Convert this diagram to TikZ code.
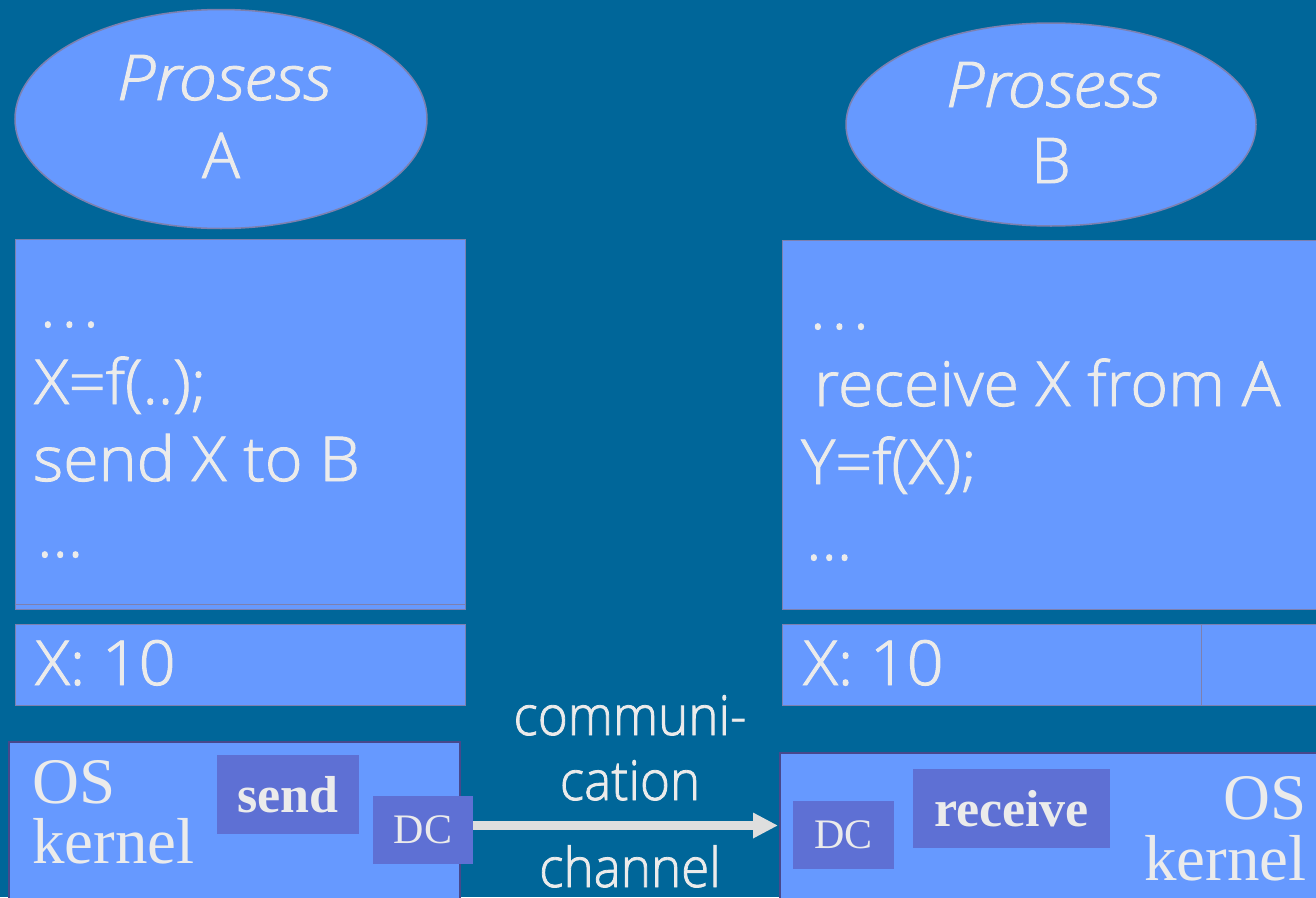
\documentclass[tikz,border=0pt]{standalone}
\usepackage{fontspec}
\setmainfont{Liberation Serif}
\IfFontExistsTF{Open Sans Light}
  {\newfontfamily\sansfont{Open Sans Light}[FakeBold=1.5]}
  {\newfontfamily\sansfont{Open Sans}}
\usetikzlibrary{arrows.meta,shapes.geometric}

\definecolor{bg}{RGB}{0,102,153}
\definecolor{panel}{RGB}{102,153,255}
\definecolor{edge}{RGB}{125,128,175}
\definecolor{kedge}{RGB}{72,72,140}
\definecolor{callbox}{RGB}{94,112,212}
\definecolor{ink}{RGB}{235,235,235}
\definecolor{wire}{RGB}{222,222,222}

\tikzset{
  proc/.style={ellipse, draw=edge, line width=1.5pt, fill=panel, inner sep=0},
  panelbox/.style={rectangle, draw=edge, line width=1pt, fill=panel, inner sep=0},
  kernelbox/.style={rectangle, draw=kedge, line width=2pt, fill=panel, inner sep=0},
  callnode/.style={rectangle, fill=callbox, inner sep=0, text=ink,
    font=\bfseries\fontsize{52}{60}\selectfont},
  dcnode/.style={rectangle, fill=callbox, inner sep=0, text=ink,
    font=\fontsize{42}{50}\selectfont},
  codeline/.style={anchor=base west, inner sep=0, text=ink, xscale=1.04, transform shape,
    font=\sansfont\fontsize{62}{74}\selectfont},
  proctitle/.style={anchor=base, inner sep=0, text=ink, xscale=1.09, transform shape,
    font=\sansfont\itshape\fontsize{63}{75}\selectfont},
  procname/.style={anchor=base, inner sep=0, text=ink,
    font=\sansfont\fontsize{63}{75}\selectfont},
  oslabel/.style={inner sep=0, text=ink, font=\fontsize{65}{75}\selectfont},
  chanlabel/.style={anchor=base, inner sep=0, text=ink, xscale=0.93, transform shape,
    font=\sansfont\fontsize{55}{65}\selectfont},
}

\begin{document}
\begin{tikzpicture}[x=1pt,y=-1pt]
  % page and backdrop
  \useasboundingbox (0,0) rectangle (1316,897);
  \fill[bg] (0,0) rectangle (1316,897);
  \clip (0,0) rectangle (1316,897);

  % the two processes
  \node[proc, minimum width=412pt, minimum height=219pt] (procA) at (221,119) {};
  \node[proctitle] (procAt) at (224,100) {Prosess};
  \node[procname] (procAn) at (221,178) {A};

  \node[proc, minimum width=410pt, minimum height=203pt] (procB) at (1051,124.5) {};
  \node[proctitle] (procBt) at (1053,107) {Prosess};
  \node[procname] (procBn) at (1051,183) {B};

  % program text of process A
  \node[panelbox, minimum width=450pt, minimum height=370pt] (codeA) at (240,424) {};
  \draw[edge, line width=1pt] (codeA.west |- 0,604) -- (codeA.east |- 0,604);
  \node[codeline] (a1) at (40,327) {.\kern6pt.\kern6pt.};
  \node[codeline] (a2) at (34,404) {X=f(..);};
  \node[codeline] (a3) at (33,481) {send X to B};
  \node[codeline] (a4) at (37,557) {...};

  \node[panelbox, minimum width=450pt, minimum height=81pt] (memA) at (240,664.5) {};
  \node[codeline] (memAt) at (35,685) {X: 10};

  % program text of process B
  \node[panelbox, minimum width=548pt, minimum height=369pt] (codeB) at (1056,424.5) {};
  \node[codeline] (b1) at (810,329) {.\kern6pt.\kern6pt.};
  \node[codeline] (b2) at (814,406) {receive X from A};
  \node[codeline] (b3) at (801,484) {Y=f(X);};
  \node[codeline] (b4) at (806,560) {...};

  \node[panelbox, minimum width=548pt, minimum height=81pt] (memB) at (1056,664.5) {};
  \draw[edge, line width=1pt] (1201,624) -- (1201,705);
  \node[codeline] (memBt) at (803,685) {X: 10};

  % kernel of A
  \node[kernelbox, minimum width=451pt, minimum height=168pt] (osA) at (234.5,826) {};
  \node[oslabel, anchor=base west] (osAt) at (32,803) {OS};
  \node[oslabel, anchor=base west] (osAk) at (32,863) {kernel};
  \node[callnode, minimum width=142pt, minimum height=79pt] (sendA) at (288,794.5) {send};
  \node[dcnode, minimum width=100pt, minimum height=68pt] (dcA) at (423,830) {DC};

  % kernel of B
  \node[kernelbox, minimum width=550pt, minimum height=157pt] (osB) at (1055,831.5) {};
  \node[oslabel, anchor=base east] (osBt) at (1307,819) {OS};
  \node[oslabel, anchor=base east] (osBk) at (1307,880) {kernel};
  \node[callnode, minimum width=197pt, minimum height=79pt] (recvB) at (1011.5,808.5) {receive};
  \node[dcnode, minimum width=101pt, minimum height=68pt] (dcB) at (843.5,835) {DC};

  % communication channel
  \coordinate (tip) at (778,825.5);
  \draw[wire, line width=9pt, -{Triangle[length=25pt,width=24pt]}]
    ([yshift=4.5pt]dcA.east) -- (tip);
  \node[chanlabel] (ch1) at (630,735) {communi-};
  \node[chanlabel] (ch2) at (630,800) {cation};
  \node[chanlabel] (ch3) at (630,887) {channel};
\end{tikzpicture}
\end{document}
